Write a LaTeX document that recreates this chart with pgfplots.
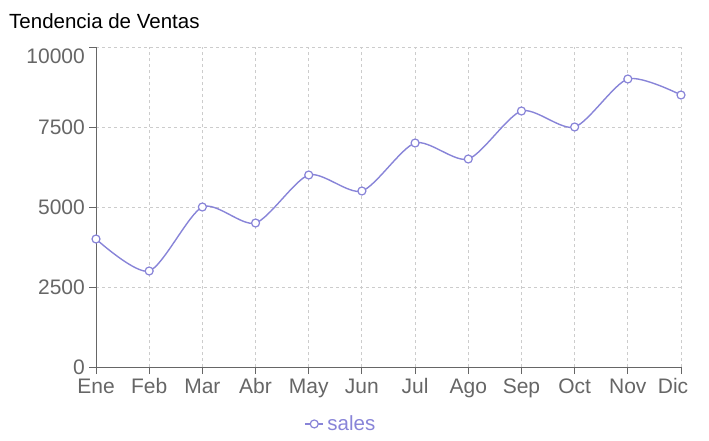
\documentclass[border=0pt]{standalone}
\usepackage{pgfplots}
\pgfplotsset{compat=1.18}
\usepackage{fontspec}
\setmainfont{Liberation Sans}
\definecolor{series}{HTML}{8884D8}
\definecolor{tickgray}{HTML}{666666}
\definecolor{gridgray}{HTML}{CCCCCC}
\begin{document}
\begin{tikzpicture}
\path[use as bounding box] (0pt,0pt) rectangle (709pt,440pt);
\node[anchor=base west, inner sep=0pt, font=\fontsize{20.5}{24}\selectfont] at (9pt,411pt) {Tendencia de Ventas};
\begin{axis}[
  at={(96pt,73pt)}, anchor=south west,
  scale only axis, width=585pt, height=320pt,
  xmin=0, xmax=11, ymin=0, ymax=10000,
  xtick={0,...,11},
  xticklabels={Ene,Feb,Mar,Abr,May,Jun,Jul,Ago,Sep,Oct,Nov,\hspace*{-16pt}Dic},
  ytick={0,2500,5000,7500,10000},
  yticklabels={0,2500,5000,7500,\raisebox{-9pt}{10000}},
  scaled y ticks=false,
  axis x line*=bottom, axis y line*=left,
  axis line style={tickgray, line width=1pt},
  tick align=outside, major tick length=7pt,
  tick style={tickgray, line width=1pt},
  grid=major,
  major grid style={gridgray, dash pattern=on 3pt off 3pt, line width=0.9pt},
  /pgf/number format/assume math mode=true,
  ticklabel style={font=\fontsize{21}{24}\selectfont, text=tickgray, inner sep=0pt},
  xticklabel style={anchor=base, yshift=-19pt},
  yticklabel style={anchor=base east, xshift=-4pt, yshift=-7.5pt},
  clip=false,
  legend style={draw=none, fill=none, at={(0.42,-0.178)}, anchor=center,
    font=\fontsize{20.5}{24}\selectfont, text=series, inner sep=0pt,
    nodes={inner xsep=3.5pt}},
  legend image code/.code={\draw[mark repeat=2,mark phase=2,#1] plot coordinates {(0pt,0pt) (9pt,0pt) (18pt,0pt)};},
]
\addplot[series, line width=1.4pt, smooth, tension=0.45, mark=*,
  mark options={fill=white, draw=series, line width=1.2pt}, mark size=4pt]
  coordinates {(0,4000) (1,3000) (2,5000) (3,4500) (4,6000) (5,5500)
               (6,7000) (7,6500) (8,8000) (9,7500) (10,9000) (11,8500)};
\addlegendentry{sales}
\end{axis}
\end{tikzpicture}
\end{document}
